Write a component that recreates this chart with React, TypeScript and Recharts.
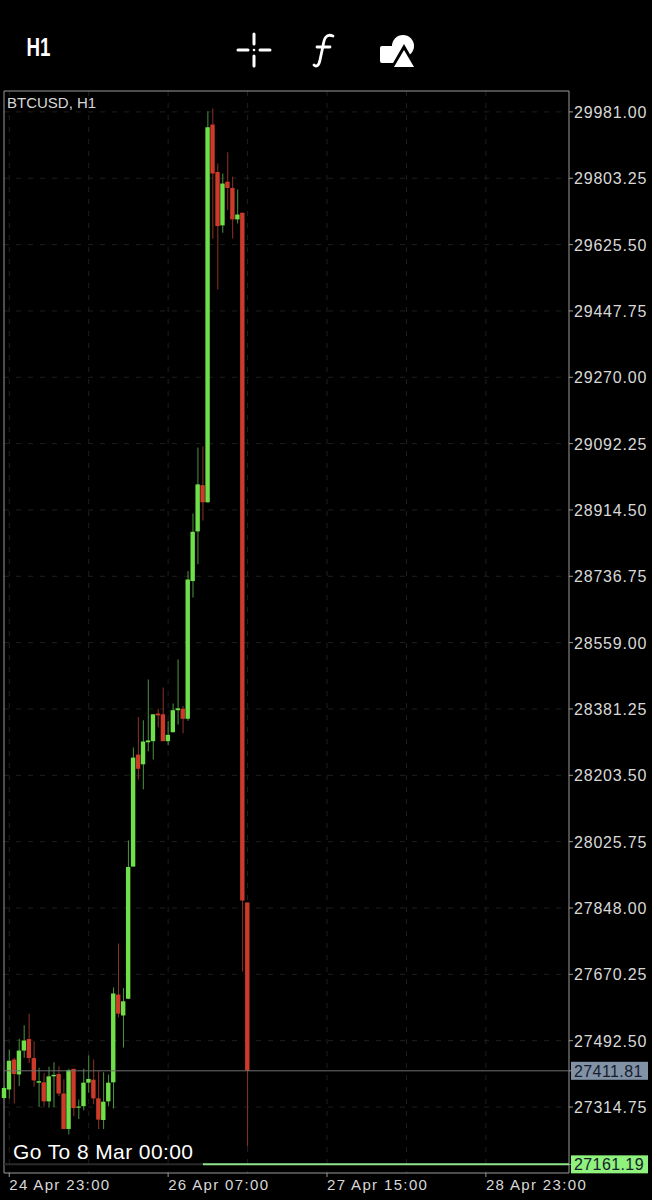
import { Bar, CartesianGrid, Cell, ComposedChart, ReferenceArea, ReferenceLine, XAxis, YAxis } from "recharts";

// hourly candles, index 0 is 24 Apr 22:00
const opens = [27339, 27362, 27442, 27402, 27466, 27497, 27446, 27380, 27381, 27330, 27397, 27403, 27351, 27256, 27417, 27313, 27317, 27380, 27388, 27338, 27280, 27330, 27381, 27616, 27560, 27605, 27959, 28259, 28233, 28292, 28295, 28369, 28367, 28295, 28319, 28378, 28382, 28355, 28724, 28857, 28981, 28935, 29947, 29820, 29677, 29794, 29777, 29693, 29711, 27863];
const closes = [27366, 27439, 27403, 27466, 27493, 27446, 27386, 27384, 27330, 27397, 27401, 27351, 27256, 27414, 27312, 27316, 27380, 27390, 27338, 27281, 27329, 27380, 27619, 27565, 27598, 27958, 28251, 28221, 28294, 28297, 28367, 28364, 28295, 28312, 28378, 28383, 28355, 28728, 28856, 28983, 28935, 29940, 29816, 29675, 29789, 29777, 29693, 29706, 27868, 27412];
const highs = [27371, 27469, 27447, 27498, 27534, 27565, 27491, 27420, 27406, 27423, 27435, 27424, 27389, 27417, 27418, 27335, 27417, 27453, 27442, 27411, 27408, 27402, 27635, 27753, 27634, 28029, 28278, 28360, 28351, 28460, 28367, 28382, 28439, 28349, 28396, 28514, 28389, 28751, 28905, 29082, 29085, 29983, 29990, 29843, 29816, 29873, 29807, 29773, 29711, 27863];
const lows = [27335, 27337, 27324, 27371, 27447, 27433, 27369, 27315, 27317, 27313, 27315, 27344, 27256, 27241, 27290, 27283, 27306, 27353, 27322, 27256, 27256, 27317, 27311, 27555, 27474, 27605, 27959, 28192, 28166, 28268, 28246, 28332, 28295, 28284, 28319, 28340, 28316, 28350, 28680, 28769, 28886, 28934, 29641, 29505, 29657, 29718, 29642, 29682, 27678, 27209];

const priceTicks = [29981, 29803.25, 29625.5, 29447.75, 29270, 29092.25, 28914.5, 28736.75, 28559, 28381.25, 28203.5, 28025.75, 27848, 27670.25, 27492.5, 27314.75];
const lastPrice = 27411.81;
const lowPrice = 27161.19;
const timeGrid = [1, 17, 33, 49, 65, 81, 97];
const timeLabels: Record<number, string> = {
  1: "24 Apr 23:00",
  33: "26 Apr 07:00",
  65: "27 Apr 15:00",
  97: "28 Apr 23:00",
};

const GREEN = "#6fe04a";
const RED = "#cc3a2a";
const GREEN_WICK = "#4a9440";
const RED_WICK = "#8f3228";
const TEXT = "#d8d8d8";
const FONT = "'Liberation Sans', Arial, sans-serif";

const xMin = -0.06;
const xMax = 113.74;
const yMin = 27138;
const yMax = 30037;

const candles = opens.map((open, i) => ({
  idx: i,
  open,
  close: closes[i],
  high: highs[i],
  low: lows[i],
  up: closes[i] >= open,
}));

function PriceTick({ x, y, payload }: any) {
  const v = payload.value;
  const box = v === lastPrice ? "#8292a6" : v === lowPrice ? "#8ef27c" : null;
  return (
    <g>
      {box && <rect x={x - 4} y={y - 9} width={77} height={18} fill={box} />}
      <text
        x={x - 1}
        y={y + 6}
        fontFamily={FONT}
        fontSize={16}
        letterSpacing={box ? 0.4 : 0.8}
        fill={box ? "#16202c" : TEXT}
      >
        {v.toFixed(2)}
      </text>
    </g>
  );
}

function TimeTick({ x, y, payload }: any) {
  const label = timeLabels[payload.value];
  if (!label) return null;
  return (
    <g>
      <line x1={x} x2={x} y1={y - 8} y2={y - 4} stroke="#999" />
      <text x={x} y={y + 9} fontFamily={FONT} fontSize={15} letterSpacing={1.35} fill={TEXT}>
        {label}
      </text>
    </g>
  );
}

function Overlay() {
  return (
    <svg width={652} height={1200} style={{ position: "absolute", left: 0, top: 0, pointerEvents: "none" }}>
      <text x={0} y={0} transform="translate(26.5 56) scale(0.72 1)" fontFamily={FONT} fontWeight={700} fontSize={26} fill="#fff">
        H1
      </text>
      <g stroke="#fff" strokeWidth={3} strokeLinecap="round">
        <line x1={238} x2={248} y1={50} y2={50} />
        <line x1={260} x2={270} y1={50} y2={50} />
        <line x1={254} x2={254} y1={34} y2={44} />
        <line x1={254} x2={254} y1={56} y2={66} />
      </g>
      <circle cx={254} cy={50} r={1.3} fill="#fff" />
      <path d="M333 36 C326 33 324 39 323 46 L320 60 C319 66 316 67 314 65 M317 47 L330 47" fill="none" stroke="#fff" strokeWidth={2.8} strokeLinecap="round" />
      <rect x={380} y={46} width={18} height={17} rx={2} fill="#fff" />
      <circle cx={403} cy={46} r={11} fill="#fff" />
      <path d="M404 44 L419 70 L389 70 Z" fill="#000" />
      <path d="M404 50 L414 67 L394 67 Z" fill="#fff" />
      <text x={7} y={108} fontFamily={FONT} fontSize={15} fill={TEXT}>
        BTCUSD, H1
      </text>
      <text x={13} y={1159} fontFamily={FONT} fontSize={21} letterSpacing={0.4} fill="#fff">
        Go To 8 Mar 00:00
      </text>
    </svg>
  );
}

export default function App() {
  return (
    <div style={{ position: "fixed", left: 0, top: 0, width: 652, height: 1200, background: "#000" }}>
      <ComposedChart
        width={652}
        height={1200}
        data={candles}
        margin={{ top: 91, left: 4, right: 0, bottom: 0 }}
        barGap={0}
      >
        <CartesianGrid
          xAxisId="body"
          stroke="#1f1f1f"
          strokeDasharray="5 7"
          horizontalValues={priceTicks}
          verticalValues={timeGrid}
        />
        <XAxis
          xAxisId="body"
          dataKey="idx"
          type="number"
          domain={[xMin, xMax]}
          ticks={timeGrid}
          interval={0}
          height={27}
          axisLine={false}
          tickLine={false}
          tick={<TimeTick />}
        />
        <XAxis xAxisId="wick" dataKey="idx" type="number" domain={[xMin, xMax]} hide />
        <YAxis
          orientation="right"
          type="number"
          domain={[yMin, yMax]}
          ticks={[...priceTicks, lastPrice, lowPrice]}
          interval={0}
          width={83}
          axisLine={false}
          tickSize={4}
          tickLine={{ stroke: "#999" }}
          tick={<PriceTick />}
        />
        <ReferenceLine xAxisId="body" y={lastPrice} stroke="#6e6e6e" strokeWidth={1} />
        <Bar
          xAxisId="wick"
          dataKey={(d: any) => [d.low, d.high]}
          barSize={1}
          isAnimationActive={false}
        >
          {candles.map((c) => (
            <Cell key={c.idx} fill={c.up ? GREEN_WICK : RED_WICK} />
          ))}
        </Bar>
        <Bar
          xAxisId="body"
          dataKey={(d: any) => [d.open, d.close]}
          barSize={4.4}
          isAnimationActive={false}
        >
          {candles.map((c) => (
            <Cell key={c.idx} fill={c.up ? GREEN : RED} />
          ))}
        </Bar>
        <ReferenceLine
          xAxisId="body"
          segment={[{ x: xMin, y: lowPrice }, { x: 40, y: lowPrice }]}
          stroke="#2a2a2a"
          strokeWidth={2}
        />
        <ReferenceLine
          xAxisId="body"
          segment={[{ x: 40, y: lowPrice }, { x: xMax, y: lowPrice }]}
          stroke="#8fe58a"
          strokeWidth={2}
        />
        <ReferenceArea
          xAxisId="body"
          x1={xMin}
          x2={xMax}
          y1={yMin}
          y2={yMax}
          fill="none"
          stroke="#9a9a9a"
          strokeWidth={1}
        />
      </ComposedChart>
      <Overlay />
    </div>
  );
}
